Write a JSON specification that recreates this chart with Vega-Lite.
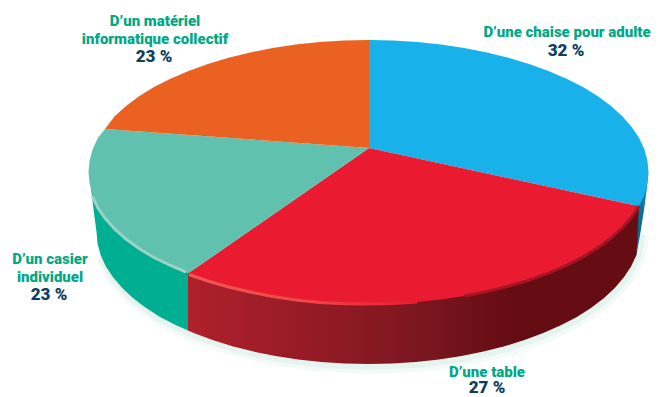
{
"$schema":"https://vega.github.io/schema/vega-lite/v6.json",
"width":659,"height":397,
"autosize":"none",
"padding":0,
"background":"#ffffff",
"view":{"stroke":null},
"datasets":{
"outline":[
{"p":"bottom","i":1,"u":640.5,"v":232},{"p":"bottom","i":2,"u":636.4,"v":255},{"p":"bottom","i":3,"u":624.1,"v":277.1},{"p":"bottom","i":4,"u":604.1,"v":298},{"p":"bottom","i":5,"u":576.9,"v":316.9},{"p":"bottom","i":6,"u":543.3,"v":333.1},{"p":"bottom","i":7,"u":504.5,"v":346.3},{"p":"bottom","i":8,"u":461.5,"v":356},{"p":"bottom","i":9,"u":415.7,"v":362},{"p":"bottom","i":10,"u":368.5,"v":364},{"p":"bottom","i":11,"u":321.3,"v":362},{"p":"bottom","i":12,"u":275.5,"v":356},{"p":"bottom","i":13,"u":232.5,"v":346.3},{"p":"bottom","i":14,"u":193.7,"v":333.1},{"p":"bottom","i":15,"u":160.1,"v":316.9},{"p":"bottom","i":16,"u":132.9,"v":298},{"p":"bottom","i":17,"u":112.9,"v":277.1},{"p":"bottom","i":18,"u":100.6,"v":255},

{"p":"sideBlue","i":1,"u":648.5,"v":172},{"p":"sideBlue","i":2,"u":647,"v":187},{"p":"sideBlue","i":3,"u":644,"v":210},{"p":"sideBlue","i":4,"u":640.5,"v":232},{"p":"sideBlue","i":5,"u":636.4,"v":255},{"p":"sideBlue","i":6,"u":634,"v":259},{"p":"sideBlue","i":7,"u":625,"v":230},

{"p":"sideTeal","i":1,"u":188,"v":273},{"p":"sideTeal","i":2,"u":188,"v":330.5},{"p":"sideTeal","i":3,"u":176.2,"v":325.3},{"p":"sideTeal","i":4,"u":160.1,"v":316.9},{"p":"sideTeal","i":5,"u":145.7,"v":307.7},{"p":"sideTeal","i":6,"u":132.9,"v":298},{"p":"sideTeal","i":7,"u":122,"v":287.8},{"p":"sideTeal","i":8,"u":112.9,"v":277.1},{"p":"sideTeal","i":9,"u":105.8,"v":266.2},{"p":"sideTeal","i":10,"u":100.6,"v":255},{"p":"sideTeal","i":11,"u":97.5,"v":243.5},{"p":"sideTeal","i":12,"u":96.5,"v":232},{"p":"sideTeal","i":13,"u":93,"v":205},{"p":"sideTeal","i":14,"u":89,"v":172},

{"p":"sideRed","i":1,"u":639,"v":206},{"p":"sideRed","i":2,"u":636.4,"v":255},{"p":"sideRed","i":3,"u":631.2,"v":266.2},{"p":"sideRed","i":4,"u":624.1,"v":277.1},{"p":"sideRed","i":5,"u":615,"v":287.8},{"p":"sideRed","i":6,"u":604.1,"v":298},{"p":"sideRed","i":7,"u":591.3,"v":307.7},{"p":"sideRed","i":8,"u":576.9,"v":316.9},{"p":"sideRed","i":9,"u":560.8,"v":325.3},{"p":"sideRed","i":10,"u":543.3,"v":333.1},{"p":"sideRed","i":11,"u":524.5,"v":340.1},{"p":"sideRed","i":12,"u":504.5,"v":346.3},{"p":"sideRed","i":13,"u":483.5,"v":351.6},{"p":"sideRed","i":14,"u":461.5,"v":356},{"p":"sideRed","i":15,"u":438.9,"v":359.5},{"p":"sideRed","i":16,"u":415.7,"v":362},{"p":"sideRed","i":17,"u":392.2,"v":363.5},{"p":"sideRed","i":18,"u":368.5,"v":364},{"p":"sideRed","i":19,"u":344.8,"v":363.5},{"p":"sideRed","i":20,"u":321.3,"v":362},{"p":"sideRed","i":21,"u":298.1,"v":359.5},{"p":"sideRed","i":22,"u":275.5,"v":356},{"p":"sideRed","i":23,"u":253.5,"v":351.6},{"p":"sideRed","i":24,"u":232.5,"v":346.3},{"p":"sideRed","i":25,"u":212.5,"v":340.1},{"p":"sideRed","i":26,"u":193.7,"v":333.1},{"p":"sideRed","i":27,"u":188,"v":330.5},{"p":"sideRed","i":28,"u":188,"v":273},

{"p":"blue","i":0,"u":369,"v":148},{"p":"blue","i":1,"u":369,"v":40},{"p":"blue","i":2,"u":392.9,"v":40.5},{"p":"blue","i":3,"u":417.2,"v":42},{"p":"blue","i":4,"u":441,"v":44.5},{"p":"blue","i":5,"u":464.3,"v":48},{"p":"blue","i":6,"u":486.8,"v":52.4},{"p":"blue","i":7,"u":508.5,"v":57.7},{"p":"blue","i":8,"u":529.1,"v":63.9},{"p":"blue","i":9,"u":548.5,"v":70.9},{"p":"blue","i":10,"u":566.5,"v":78.7},{"p":"blue","i":11,"u":583,"v":87.1},{"p":"blue","i":12,"u":597.9,"v":96.3},{"p":"blue","i":13,"u":611,"v":106},{"p":"blue","i":14,"u":622.3,"v":116.2},{"p":"blue","i":15,"u":631.7,"v":126.9},{"p":"blue","i":16,"u":639,"v":137.8},{"p":"blue","i":17,"u":644.3,"v":149},{"p":"blue","i":18,"u":647.4,"v":160.5},{"p":"blue","i":19,"u":648.5,"v":172},{"p":"blue","i":20,"u":647.4,"v":183.5},{"p":"blue","i":21,"u":644.3,"v":195},{"p":"blue","i":22,"u":639,"v":206.2},

{"p":"red","i":0,"u":369,"v":148},{"p":"red","i":1,"u":639,"v":206.2},{"p":"red","i":2,"u":631.7,"v":217.1},{"p":"red","i":3,"u":622.3,"v":227.8},{"p":"red","i":4,"u":611,"v":238},{"p":"red","i":5,"u":597.9,"v":247.7},{"p":"red","i":6,"u":583,"v":256.9},{"p":"red","i":7,"u":566.5,"v":265.3},{"p":"red","i":8,"u":548.5,"v":273.1},{"p":"red","i":9,"u":529.1,"v":280.1},{"p":"red","i":10,"u":508.5,"v":286.3},{"p":"red","i":11,"u":486.8,"v":291.6},{"p":"red","i":12,"u":464.3,"v":296},{"p":"red","i":13,"u":441,"v":299.5},{"p":"red","i":14,"u":417.2,"v":302},{"p":"red","i":15,"u":392.9,"v":303.5},{"p":"red","i":16,"u":368.5,"v":304},{"p":"red","i":17,"u":344.1,"v":303.5},{"p":"red","i":18,"u":319.8,"v":302},{"p":"red","i":19,"u":296,"v":299.5},{"p":"red","i":20,"u":272.7,"v":296},{"p":"red","i":21,"u":250.2,"v":291.6},{"p":"red","i":22,"u":228.5,"v":286.3},{"p":"red","i":23,"u":207.9,"v":280.1},{"p":"red","i":24,"u":188.5,"v":273.1},

{"p":"teal","i":0,"u":369,"v":148},{"p":"teal","i":1,"u":188.5,"v":273.1},{"p":"teal","i":2,"u":170.5,"v":265.3},{"p":"teal","i":3,"u":154,"v":256.9},{"p":"teal","i":4,"u":139.1,"v":247.7},{"p":"teal","i":5,"u":126,"v":238},{"p":"teal","i":6,"u":114.7,"v":227.8},{"p":"teal","i":7,"u":105.3,"v":217.1},{"p":"teal","i":8,"u":98,"v":206.2},{"p":"teal","i":9,"u":92.7,"v":195},{"p":"teal","i":10,"u":89.6,"v":183.5},{"p":"teal","i":11,"u":88.5,"v":172},{"p":"teal","i":12,"u":89.6,"v":160.5},{"p":"teal","i":13,"u":92.7,"v":149},{"p":"teal","i":14,"u":98,"v":137.8},{"p":"teal","i":15,"u":105,"v":129},

{"p":"orange","i":0,"u":369,"v":148},{"p":"orange","i":1,"u":105,"v":129},{"p":"orange","i":2,"u":114.7,"v":116.2},{"p":"orange","i":3,"u":126,"v":106},{"p":"orange","i":4,"u":139.1,"v":96.3},{"p":"orange","i":5,"u":154,"v":87.1},{"p":"orange","i":6,"u":170.5,"v":78.7},{"p":"orange","i":7,"u":188.5,"v":70.9},{"p":"orange","i":8,"u":207.9,"v":63.9},{"p":"orange","i":9,"u":228.5,"v":57.7},{"p":"orange","i":10,"u":250.2,"v":52.4},{"p":"orange","i":11,"u":272.7,"v":48},{"p":"orange","i":12,"u":296,"v":44.5},{"p":"orange","i":13,"u":319.8,"v":42},{"p":"orange","i":14,"u":344.1,"v":40.5},{"p":"orange","i":15,"u":369,"v":40},

{"p":"rimTeal","i":1,"u":92.7,"v":197},{"p":"rimTeal","i":2,"u":98,"v":208},{"p":"rimTeal","i":3,"u":105.3,"v":218.5},{"p":"rimTeal","i":4,"u":114.7,"v":229},{"p":"rimTeal","i":5,"u":126,"v":239},{"p":"rimTeal","i":6,"u":139.1,"v":248.5},{"p":"rimTeal","i":7,"u":154,"v":257.5},{"p":"rimTeal","i":8,"u":170.5,"v":265.5},{"p":"rimTeal","i":9,"u":185,"v":271.5},

{"p":"rimRed","i":1,"u":189,"v":274.5},{"p":"rimRed","i":2,"u":207.9,"v":281},{"p":"rimRed","i":3,"u":228.5,"v":287},{"p":"rimRed","i":4,"u":250.2,"v":292},{"p":"rimRed","i":5,"u":272.7,"v":296.5},{"p":"rimRed","i":6,"u":296,"v":300},{"p":"rimRed","i":7,"u":319.8,"v":302.5},{"p":"rimRed","i":8,"u":344.1,"v":303.8},{"p":"rimRed","i":9,"u":368.5,"v":304},{"p":"rimRed","i":10,"u":392.9,"v":303.5},{"p":"rimRed","i":11,"u":417.2,"v":302},

{"p":"edgeDark","i":1,"u":464.3,"v":296},{"p":"edgeDark","i":2,"u":486.8,"v":291.6},{"p":"edgeDark","i":3,"u":508.5,"v":286.3},{"p":"edgeDark","i":4,"u":529.1,"v":280.1},{"p":"edgeDark","i":5,"u":548.5,"v":273.1},{"p":"edgeDark","i":6,"u":566.5,"v":265.3},{"p":"edgeDark","i":7,"u":583,"v":256.9},{"p":"edgeDark","i":8,"u":597.9,"v":247.7},{"p":"edgeDark","i":9,"u":611,"v":238},{"p":"edgeDark","i":10,"u":622.3,"v":227.8},{"p":"edgeDark","i":11,"u":631.7,"v":217.1},{"p":"edgeDark","i":12,"u":639,"v":206.2}
],
"labels":[
{"kind":"name","text":"D’un matériel","u":155,"v":20.5},
{"kind":"name","text":"informatique collectif","u":155,"v":38.5},
{"kind":"share","text":"23 %","u":154,"v":57},
{"kind":"name","text":"D’une chaise pour adulte","u":567,"v":31.5},
{"kind":"share","text":"32 %","u":566,"v":51},
{"kind":"name","text":"D’une table","u":487,"v":372},
{"kind":"share","text":"27 %","u":487,"v":388},
{"kind":"name","text":"D’un casier","u":50,"v":258.5},
{"kind":"name","text":"individuel","u":50,"v":276.5},
{"kind":"share","text":"23 %","u":49,"v":295}
]
},
"encoding":{
"x":{"field":"u","type":"quantitative","scale":{"domain":[0,659],"nice":false,"zero":false},"axis":null},
"y":{"field":"v","type":"quantitative","scale":{"domain":[397,0],"nice":false,"zero":false},"axis":null},
"order":{"field":"i","type":"quantitative"}
},
"layer":[
{"data":{"name":"outline"},"transform":[{"filter":"datum.p==='bottom'"}],"mark":{"type":"line","stroke":"#f4faf8","strokeWidth":14,"yOffset":3,"xOffset":2}},
{"data":{"name":"outline"},"transform":[{"filter":"datum.p==='bottom'"}],"mark":{"type":"line","stroke":"#e6f4f0","strokeWidth":8,"yOffset":2,"xOffset":1}},
{"data":{"name":"outline"},"transform":[{"filter":"datum.p==='sideBlue'"}],"mark":{"type":"line","filled":true,"stroke":null,"fill":{"gradient":"linear","x1":0,"y1":0,"x2":0,"y2":1,"stops":[{"offset":0,"color":"#1a9ccc"},{"offset":0.45,"color":"#0a7196"},{"offset":1,"color":"#04607e"}]}}},
{"data":{"name":"outline"},"transform":[{"filter":"datum.p==='sideTeal'"}],"mark":{"type":"line","filled":true,"stroke":null,"fill":"#00ae91"}},
{"data":{"name":"outline"},"transform":[{"filter":"datum.p==='sideRed'"}],"mark":{"type":"line","filled":true,"stroke":null,"fill":{"gradient":"linear","x1":0,"y1":0,"x2":1,"y2":0,"stops":[{"offset":0,"color":"#b0202b"},{"offset":0.2,"color":"#9c1c27"},{"offset":0.5,"color":"#7d1720"},{"offset":0.72,"color":"#650c13"},{"offset":1,"color":"#660c13"}]}}},
{"data":{"name":"outline"},"transform":[{"filter":"datum.p==='blue'"}],"mark":{"type":"line","filled":true,"stroke":null,"fill":"#19b1ea"}},
{"data":{"name":"outline"},"transform":[{"filter":"datum.p==='red'"}],"mark":{"type":"line","filled":true,"stroke":null,"fill":"#ea1b30"}},
{"data":{"name":"outline"},"transform":[{"filter":"datum.p==='teal'"}],"mark":{"type":"line","filled":true,"stroke":null,"fill":"#5fc1ae"}},
{"data":{"name":"outline"},"transform":[{"filter":"datum.p==='orange'"}],"mark":{"type":"line","filled":true,"stroke":null,"fill":"#eb6122"}},
{"data":{"name":"outline"},"transform":[{"filter":"datum.p==='rimTeal'"}],"mark":{"type":"line","stroke":"#9dd2c6","strokeWidth":3,"strokeCap":"round"}},
{"data":{"name":"outline"},"transform":[{"filter":"datum.p==='rimRed'"}],"mark":{"type":"line","strokeWidth":3,"stroke":{"gradient":"linear","x1":0,"y1":0,"x2":1,"y2":0,"stops":[{"offset":0,"color":"#ee5a52"},{"offset":0.55,"color":"#ee4548"},{"offset":1,"color":"#ea1b30"}]}}},
{"data":{"name":"outline"},"transform":[{"filter":"datum.p==='edgeDark'"}],"mark":{"type":"line","stroke":"#a51524","strokeWidth":3}},
{"data":{"name":"labels"},"transform":[{"filter":"datum.kind==='name'"}],"mark":{"type":"text","font":"Roboto","fontWeight":900,"fontSize":15,"align":"center","baseline":"middle","fill":"#01a886"},"encoding":{"text":{"field":"text"},"order":null}},
{"data":{"name":"labels"},"transform":[{"filter":"datum.kind==='share'"}],"mark":{"type":"text","font":"Roboto","fontWeight":900,"fontSize":17,"align":"center","baseline":"middle","fill":"#0d3f60"},"encoding":{"text":{"field":"text"},"order":null}}
]
}
